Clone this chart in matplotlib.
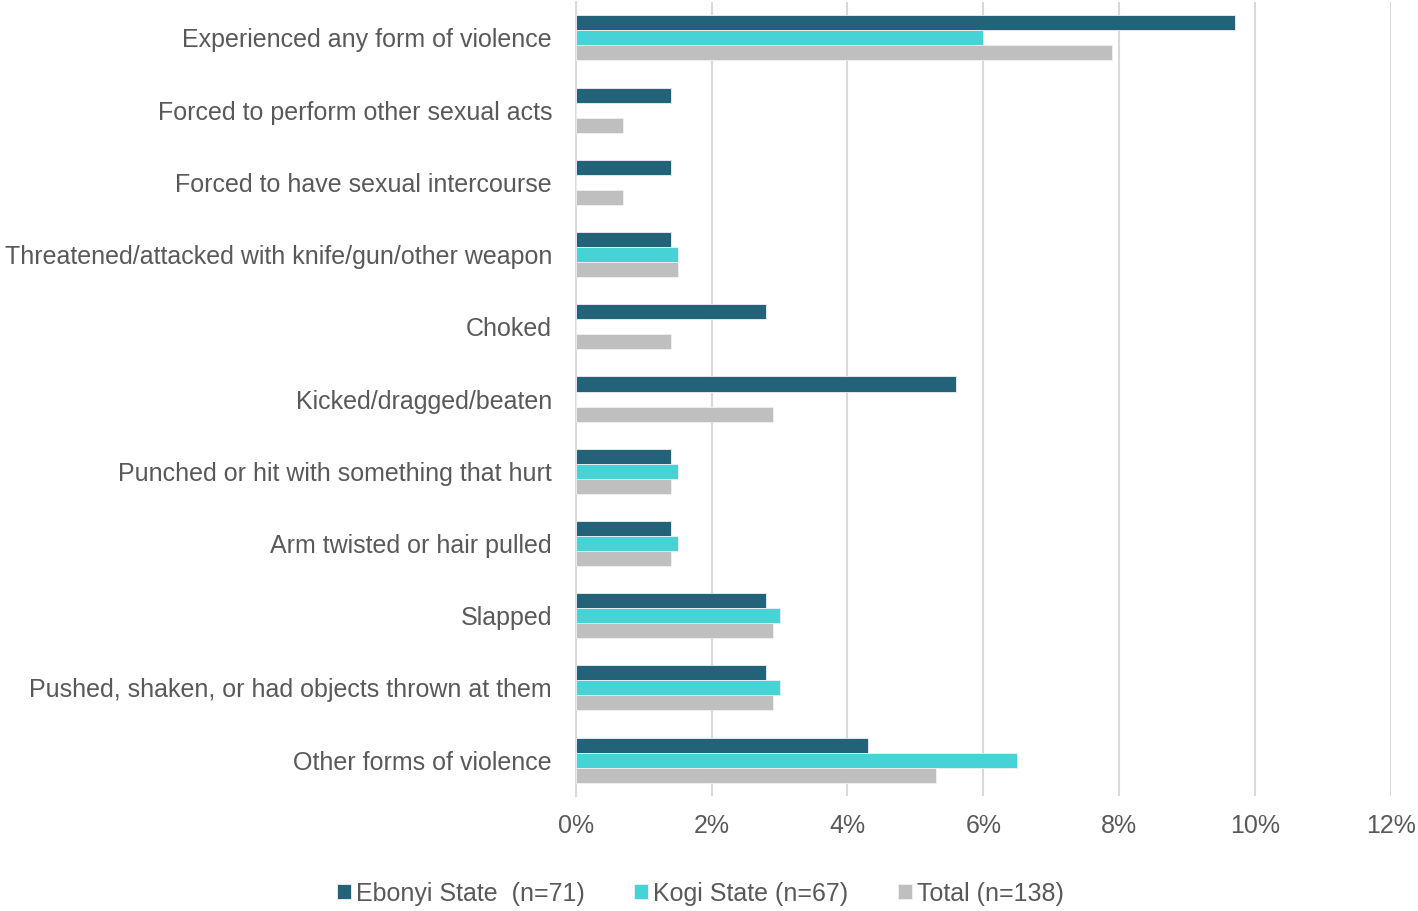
import matplotlib
matplotlib.use("Agg")
import matplotlib.pyplot as plt
from matplotlib.ticker import FuncFormatter
import numpy as np

categories = [
    "Experienced any form of violence",
    "Forced to perform other sexual acts",
    "Forced to have sexual intercourse",
    "Threatened/attacked with knife/gun/other weapon",
    "Choked",
    "Kicked/dragged/beaten",
    "Punched or hit with something that hurt",
    "Arm twisted or hair pulled",
    "Slapped",
    "Pushed, shaken, or had objects thrown at them",
    "Other forms of violence",
]
ebonyi = [9.7, 1.4, 1.4, 1.4, 2.8, 5.6, 1.4, 1.4, 2.8, 2.8, 4.3]
kogi = [6.0, 0.0, 0.0, 1.5, 0.0, 0.0, 1.5, 1.5, 3.0, 3.0, 6.5]
total = [7.9, 0.7, 0.7, 1.5, 1.4, 2.9, 1.4, 1.4, 2.9, 2.9, 5.3]
series_names = ["Ebonyi State  (n=71)", "Kogi State (n=67)", "Total (n=138)"]
colors = ["#22637a", "#45d3d6", "#bfbfbf"]
xticks = [0, 2, 4, 6, 8, 10, 12]

plt.rcParams['font.family'] = ['Liberation Sans', 'DejaVu Sans']
text_color = "#595959"

fig = plt.figure(figsize=(14.18, 9.11), dpi=100)
ax = fig.add_axes([0.406, 0.126, 0.575, 0.872])

y = np.arange(len(categories))
h = 0.208
for i, (vals, name, c) in enumerate(zip([ebonyi, kogi, total], series_names, colors)):
    ax.barh(y + (i - 1) * h, vals, height=h, color=c, label=name,
            edgecolor="#f0f0f0", linewidth=0.6, zorder=3)

ax.set_ylim(len(categories) - 0.5, -0.5)
ax.set_xlim(0, 12)
ax.set_xticks(xticks)
ax.xaxis.set_major_formatter(FuncFormatter(lambda v, p: f"{int(v)}%"))
ax.set_yticks(y)
ax.set_yticklabels(categories)
ax.grid(axis="x", color="#d9d9d9", linewidth=1.5, zorder=0)
for s in ["top", "right", "bottom"]:
    ax.spines[s].set_visible(False)
ax.spines["left"].set_color("#d9d9d9")
ax.spines["left"].set_linewidth(1.5)
ax.tick_params(axis="both", length=0, labelsize=18, colors=text_color)
ax.tick_params(axis="x", pad=13)
ax.tick_params(axis="y", pad=17)

handles, labels = ax.get_legend_handles_labels()
fig.legend(handles, labels, loc="center", bbox_to_anchor=(0.494, 0.019), ncol=3,
           frameon=False, fontsize=18, labelcolor=text_color,
           handlelength=0.55, handleheight=0.55, handletextpad=0.2, columnspacing=2.0)

fig.savefig("out.png", dpi=100)
